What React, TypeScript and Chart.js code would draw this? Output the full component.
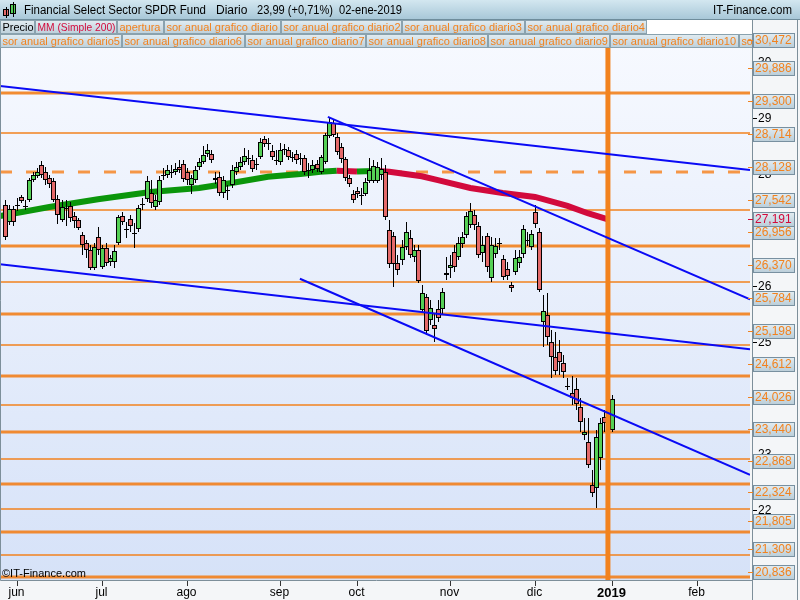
import { useEffect, useRef } from "react";
import { Chart, registerables } from "chart.js";

Chart.register(...registerables);

// Session index 0 = 1 Jun 2018, one step per trading day.
const FIRST_SESSION = -3;

const opens = [
  27.45, 27.14, 27.38, 27.45, 27.59, 27.43, 27.54, 27.89, 27.96, 28.16,
  28.04, 27.93, 27.87, 27.55, 27.18, 27.39, 27.43, 27.25, 27.18, 26.91,
  26.77, 26.64, 26.32, 26.88, 26.34, 26.68, 26.43, 26.43, 26.77, 27.25,
  27.0, 27.2, 26.93, 27.02, 27.45, 27.55, 27.66, 27.41, 27.5, 27.98,
  27.98, 28.04, 28.04, 28.13, 28.18, 28.04, 27.8, 27.89, 28.13, 28.21,
  28.36, 28.36, 27.89, 27.95, 27.66, 27.7, 27.8, 28.04, 28.13, 28.21,
  28.29, 28.25, 28.18, 28.3, 28.63, 28.55, 28.41, 28.25, 28.21, 28.43,
  28.43, 28.3, 28.36, 28.27, 28.29, 28.07, 28.07, 28.18, 28.04, 28.21,
  28.68, 28.91, 28.66, 28.48, 28.27, 27.93, 27.64, 27.7, 27.62, 27.64,
  27.87, 27.87, 27.87, 27.98, 28.04, 27.0, 26.89, 26.41, 26.46, 26.7,
  26.86, 26.52, 26.64, 25.57, 25.8, 25.39, 25.3, 25.59, 25.59, 26.2,
  26.32, 26.61, 26.52, 26.75, 26.91, 27.09, 27.27, 27.07, 26.59, 26.89,
  26.14, 26.57, 26.75, 26.48, 26.3, 26.02, 26.25, 26.41, 26.57, 26.82,
  26.7, 27.32, 26.96, 25.36, 25.48, 25.0, 24.73, 24.82, 24.63, 24.21,
  24.09, 24.16, 23.84, 23.34, 23.21, 22.45, 22.39, 22.93, 23.66, 23.61,
  23.43,
];
const highs = [
  27.54, 27.45, 27.43, 27.57, 27.63, 27.54, 27.93, 28.04, 28.11, 28.23,
  28.13, 27.98, 27.93, 27.63, 27.54, 27.54, 27.5, 27.32, 27.21, 26.96,
  26.82, 26.73, 26.77, 27.05, 26.73, 26.77, 26.55, 26.73, 27.27, 27.32,
  27.14, 27.27, 27.13, 27.45, 27.57, 27.96, 27.89, 27.63, 27.96, 28.11,
  28.16, 28.16, 28.2, 28.25, 28.25, 28.11, 27.98, 28.14, 28.29, 28.5,
  28.54, 28.43, 28.04, 28.04, 27.96, 27.8, 28.16, 28.21, 28.3, 28.46,
  28.43, 28.34, 28.29, 28.64, 28.68, 28.64, 28.52, 28.43, 28.55, 28.54,
  28.48, 28.39, 28.43, 28.38, 28.34, 28.2, 28.25, 28.25, 28.34, 28.73,
  29.02, 28.98, 28.73, 28.55, 28.3, 27.98, 27.71, 27.77, 27.75, 27.93,
  28.29, 28.25, 28.21, 28.29, 28.16, 27.18, 26.96, 26.55, 26.82, 27.14,
  27.0, 26.73, 26.73, 26.02, 25.86, 25.75, 25.52, 25.75, 25.96, 26.52,
  26.55, 26.73, 26.87, 26.96, 27.32, 27.48, 27.36, 27.14, 26.89, 26.95,
  26.87, 26.86, 26.86, 26.55, 26.43, 26.07, 26.64, 26.64, 27.09, 26.96,
  27.0, 27.45, 27.04, 25.84, 25.87, 25.21, 25.18, 25.04, 24.77, 24.36,
  24.39, 24.36, 24.0, 23.64, 23.64, 22.71, 23.43, 23.64, 23.79, 23.86,
  24.05,
];
const lows = [
  26.82, 27.09, 27.07, 27.34, 27.48, 27.36, 27.5, 27.86, 27.93, 27.93,
  27.8, 27.75, 27.5, 27.11, 27.14, 27.07, 27.14, 27.04, 27.0, 26.55,
  26.5, 26.29, 26.29, 26.55, 26.3, 26.36, 26.36, 26.32, 26.73, 27.09,
  26.86, 26.96, 26.68, 26.96, 27.36, 27.5, 27.39, 27.36, 27.45, 27.89,
  27.93, 27.93, 27.98, 28.02, 27.86, 27.8, 27.64, 27.84, 28.07, 28.18,
  28.3, 28.2, 27.82, 27.61, 27.57, 27.54, 27.75, 27.98, 28.07, 28.16,
  28.16, 28.04, 28.07, 28.27, 28.48, 28.43, 28.25, 28.16, 28.16, 28.34,
  28.25, 28.21, 28.18, 28.16, 27.98, 27.93, 28.02, 28.04, 28.0, 28.18,
  28.64, 28.66, 28.34, 28.2, 27.87, 27.77, 27.48, 27.57, 27.45, 27.61,
  27.84, 27.84, 27.84, 27.89, 27.18, 26.32, 25.98, 26.2, 26.38, 26.64,
  26.5, 26.43, 26.05, 25.54, 25.13, 25.3, 25.0, 25.36, 25.48, 26.11,
  26.14, 26.25, 26.46, 26.68, 26.86, 27.04, 27.0, 26.5, 26.43, 26.25,
  26.07, 26.5, 26.64, 26.11, 26.11, 25.89, 26.2, 26.32, 26.5, 26.71,
  26.64, 27.04, 25.89, 24.91, 24.95, 24.36, 24.41, 24.41, 24.36, 24.14,
  23.87, 23.79, 23.39, 23.25, 22.75, 22.23, 22.04, 22.71, 23.39, 23.39,
  23.39,
];
const closes = [
  26.88, 27.38, 27.14, 27.43, 27.52, 27.42, 27.89, 27.98, 28.04, 27.98,
  27.89, 27.82, 27.54, 27.27, 27.41, 27.37, 27.21, 27.16, 27.04, 26.73,
  26.64, 26.32, 26.7, 26.64, 26.68, 26.41, 26.5, 26.63, 27.23, 27.14,
  27.02, 27.07, 26.95, 27.39, 27.46, 27.87, 27.48, 27.54, 27.89, 27.97,
  28.07, 28.03, 28.09, 28.07, 27.91, 27.89, 27.93, 28.07, 28.21, 28.34,
  28.43, 28.25, 27.93, 27.66, 27.89, 27.71, 28.07, 28.13, 28.21, 28.32,
  28.27, 28.09, 28.17, 28.57, 28.54, 28.56, 28.3, 28.24, 28.43, 28.45,
  28.3, 28.31, 28.25, 28.28, 28.04, 28.06, 28.16, 28.09, 28.3, 28.7,
  28.93, 28.7, 28.39, 28.27, 27.93, 27.82, 27.54, 27.64, 27.63, 27.86,
  28.07, 28.14, 28.13, 28.09, 27.23, 26.39, 26.39, 26.29, 26.7, 26.96,
  26.55, 26.64, 26.09, 25.87, 25.2, 25.61, 25.23, 25.43, 25.89, 26.23,
  26.38, 26.34, 26.77, 26.87, 27.25, 27.34, 27.09, 26.55, 26.73, 26.34,
  26.73, 26.71, 26.76, 26.16, 26.18, 25.96, 26.5, 26.52, 27.02, 26.83,
  26.93, 27.11, 25.93, 25.55, 25.09, 24.73, 24.48, 24.64, 24.46, 24.2,
  24.0, 23.89, 23.57, 23.39, 22.8, 22.3, 23.3, 23.55, 23.55, 23.82,
  23.99,
];

// 200-session simple moving average, sampled along the session axis
const maSessions = [-4.2, 8, 20, 33, 45, 53, 62, 70, 75, 79, 84, 86, 89, 92, 100, 104, 112, 120, 128, 136, 141, 146];
const maValues = [27.25, 27.41, 27.55, 27.68, 27.75, 27.84, 27.95, 28.0, 28.04, 28.06, 28.045, 28.05, 28.055, 28.04, 27.96, 27.89, 27.75, 27.66, 27.59, 27.43, 27.3, 27.19];
const maLastLabel = 27.191;

// horizontal support / resistance levels
const majorLevels = [29.446, 26.714, 25.5, 24.393, 23.393, 22.464, 21.607, 20.804];
const minorLevels = [28.732, 27.357, 26.071, 24.946, 23.875, 22.911, 22.018, 21.196];
const openingLevel = 28.036;
const yearOpenSession = 146;

// trend lines (session, price)
const trendUpper = [{ x: -4.2, y: 29.57 }, { x: 181.1, y: 28.07 }];
const trendSteep = [{ x: 76.8, y: 29.02 }, { x: 181.1, y: 25.76 }];
const trendMiddle = [{ x: -4.2, y: 26.39 }, { x: 181.1, y: 24.87 }];
const trendLower = [{ x: 69.9, y: 26.13 }, { x: 181.1, y: 22.63 }];

const axisLevelLabels = [30.472, 29.886, 29.3, 28.714, 28.128, 27.542, 26.956, 26.37, 25.784, 25.198, 24.612, 24.026, 23.44, 22.868, 22.324, 21.805, 21.309, 20.836];
const axisNumbers = [30, 29, 28, 27, 26, 25, 24, 23, 22];

const monthSessions = [0, 21, 42, 65, 84, 107, 128, 147, 168];
const monthLabels = ["jun", "jul", "ago", "sep", "oct", "nov", "dic", "2019", "feb"];

const legendRow1 = ["Precio", "MM (Simple 200)", "apertura", "sor anual grafico diario", "sor anual grafico diario2", "sor anual grafico diario3", "sor anual grafico diario4"];
const legendRow2 = ["sor anual grafico diario5", "sor anual grafico diario6", "sor anual grafico diario7", "sor anual grafico diario8", "sor anual grafico diario9", "sor anual grafico diario10", "sor anual grafico diario11"];

const titleName = "Financial Select Sector SPDR Fund";
const titlePeriod = "Diario";
const titleQuote = "23,99 (+0,71%)";
const titleDate = "02-ene-2019";
const siteName = "IT-Finance.com";
const copyright = "©IT-Finance.com";

const X_MIN = -4.2;
const X_MAX = 181.1;
const Y_MIN = 20.75;
const Y_MAX = 30.75;

// legend box widths, px
const LEGEND_W1 = [35, 82, 47, 117, 121, 123, 122];
const LEGEND_W2 = [122, 123, 121, 122, 122, 129, 122];

const FONT = "'Liberation Sans', Arial, sans-serif";
const ORANGE = "#f2821e";
const UP_FILL = "#55d055";
const DOWN_FILL = "#e46a6a";
const MA_UP = "#0b960b";
const MA_DOWN = "#d20a3c";
const BLUE = "#0a0af5";
const MA_INDEX = 0;

const fmt = (v: number) => v.toFixed(3).replace(".", ",");

function boxGradient(ctx: CanvasRenderingContext2D, y0: number, y1: number) {
  const g = ctx.createLinearGradient(0, y0, 0, y1);
  g.addColorStop(0, "#e3edf2");
  g.addColorStop(1, "#bccfda");
  return g;
}

const decor = {
  id: "decor",
  beforeDraw(chart: any) {
    const { ctx, chartArea: a } = chart;
    ctx.save();
    ctx.fillStyle = "#f4f6f8";
    ctx.fillRect(0, 0, 800, 600);
    const g = ctx.createLinearGradient(0, a.top, 0, a.bottom);
    g.addColorStop(0, "#f8faff");
    g.addColorStop(1, "#d6e2f8");
    ctx.fillStyle = g;
    ctx.fillRect(a.left, a.top, a.right - a.left, a.bottom - a.top);
    ctx.restore();
  },
  afterDatasetDraw(chart: any, args: any) {
    if (args.index !== MA_INDEX) return;
    const { ctx, chartArea: a } = chart;
    const xs = chart.scales.x;
    const ys = chart.scales.y;
    ctx.save();
    ctx.beginPath();
    ctx.rect(a.left, a.top, a.right - a.left, a.bottom - a.top);
    ctx.clip();
    ctx.lineWidth = 1;
    ctx.strokeStyle = "#000";
    for (let k = 0; k < opens.length; k++) {
      const x = Math.round(xs.getPixelForValue(FIRST_SESSION + k));
      const yh = Math.round(ys.getPixelForValue(highs[k]));
      const yl = Math.round(ys.getPixelForValue(lows[k]));
      const yo = ys.getPixelForValue(opens[k]);
      const yc = ys.getPixelForValue(closes[k]);
      ctx.beginPath();
      ctx.moveTo(x + 0.5, yh);
      ctx.lineTo(x + 0.5, yl);
      ctx.stroke();
      const top = Math.round(Math.min(yo, yc));
      const bot = Math.round(Math.max(yo, yc));
      if (bot - top < 2) {
        ctx.beginPath();
        ctx.moveTo(x - 2, top + 0.5);
        ctx.lineTo(x + 3, top + 0.5);
        ctx.stroke();
      } else {
        ctx.fillStyle = closes[k] >= opens[k] ? UP_FILL : DOWN_FILL;
        ctx.fillRect(x - 1.5, top, 4, bot - top);
        ctx.strokeRect(x - 1.5, top + 0.5, 4, bot - top - 1);
      }
    }
    ctx.restore();
  },
  afterDraw(chart: any) {
    const { ctx, chartArea: a } = chart;
    const xs = chart.scales.x;
    const ys = chart.scales.y;
    ctx.save();

    // plot frame
    ctx.strokeStyle = "#7d8f9a";
    ctx.lineWidth = 1;
    ctx.beginPath();
    ctx.moveTo(0.5, a.top);
    ctx.lineTo(0.5, a.bottom + 0.5);
    ctx.lineTo(a.right + 2.5, a.bottom + 0.5);
    ctx.moveTo(a.right + 2.5, a.top);
    ctx.lineTo(a.right + 2.5, 600);
    ctx.moveTo(797.5, 20);
    ctx.lineTo(797.5, 600);
    ctx.stroke();

    // header bar
    const hg = ctx.createLinearGradient(0, 0, 0, 20);
    hg.addColorStop(0, "#d3e7f0");
    hg.addColorStop(1, "#a6c6d7");
    ctx.fillStyle = hg;
    ctx.fillRect(0, 0, 800, 20);
    ctx.strokeStyle = "#6f8d9c";
    ctx.beginPath();
    ctx.moveTo(0, 19.5);
    ctx.lineTo(800, 19.5);
    ctx.stroke();
    // icon
    ctx.fillStyle = DOWN_FILL;
    ctx.strokeStyle = "#000";
    ctx.fillRect(4, 10, 5, 6);
    ctx.strokeRect(3.5, 9.5, 5, 6);
    ctx.beginPath();
    ctx.moveTo(6.5, 7);
    ctx.lineTo(6.5, 18);
    ctx.stroke();
    ctx.fillStyle = UP_FILL;
    ctx.fillRect(11, 5, 5, 9);
    ctx.strokeRect(10.5, 4.5, 5, 9);
    ctx.beginPath();
    ctx.moveTo(13.5, 2);
    ctx.lineTo(13.5, 17);
    ctx.stroke();

    ctx.fillStyle = "#000";
    ctx.font = `12px ${FONT}`;
    ctx.textBaseline = "middle";
    ctx.textAlign = "left";
    ctx.fillText(titleName, 24, 11, 182);
    ctx.fillText(titlePeriod, 216, 11, 33);
    ctx.fillText(titleQuote, 257, 11, 76);
    ctx.fillText(titleDate, 339, 11, 63);
    ctx.textAlign = "right";
    ctx.fillText(siteName, 792, 11, 79);

    // legend rows
    ctx.fillStyle = "#ffffff";
    ctx.fillRect(0, 20, a.right + 2, 28);
    ctx.font = `11px ${FONT}`;
    ctx.textAlign = "left";
    const drawRow = (items: string[], widths: number[], y0: number, colors: string[]) => {
      let x = 0;
      ctx.save();
      ctx.beginPath();
      ctx.rect(0, y0, a.right + 2, 14);
      ctx.clip();
      items.forEach((t, k) => {
        const w = widths[k];
        ctx.fillStyle = boxGradient(ctx, y0, y0 + 14);
        ctx.fillRect(x, y0, w, 14);
        ctx.strokeStyle = "#8aa2ae";
        ctx.strokeRect(x + 0.5, y0 + 0.5, w - 1, 13);
        ctx.fillStyle = colors[k] || ORANGE;
        ctx.fillText(t, x + 2.5, y0 + 7.5, w - 4);
        x += w;
      });
      ctx.restore();
    };
    drawRow(legendRow1, LEGEND_W1, 20, ["#000", MA_DOWN]);
    drawRow(legendRow2, LEGEND_W2, 34, []);

    // right axis: integer ticks
    ctx.font = `12px ${FONT}`;
    ctx.fillStyle = "#000";
    ctx.strokeStyle = "#000";
    axisNumbers.forEach((v) => {
      const y = Math.round(ys.getPixelForValue(v)) + 0.5;
      ctx.beginPath();
      ctx.moveTo(a.right + 3, y);
      ctx.lineTo(a.right + 7, y);
      ctx.stroke();
      ctx.fillText(String(v), a.right + 8, y);
    });
    // right axis: level boxes
    const levelBox = (v: number, color: string) => {
      let y = Math.round(ys.getPixelForValue(v));
      y = Math.max(40, Math.min(572, y));
      ctx.strokeStyle = color;
      ctx.beginPath();
      ctx.moveTo(a.right - 2, y + 0.5);
      ctx.lineTo(a.right + 3, y + 0.5);
      ctx.stroke();
      ctx.fillStyle = boxGradient(ctx, y - 7, y + 7);
      ctx.fillRect(a.right + 3, y - 7, 42, 15);
      ctx.strokeStyle = "#7890a0";
      ctx.strokeRect(a.right + 3.5, y - 6.5, 41, 14);
      ctx.fillStyle = color;
      ctx.fillText(fmt(v), a.right + 5, y + 1);
    };
    axisLevelLabels.forEach((v) => levelBox(v, ORANGE));
    levelBox(maLastLabel, MA_DOWN);

    // bottom axis
    ctx.fillStyle = "#000";
    ctx.strokeStyle = "#333";
    ctx.textAlign = "center";
    monthSessions.forEach((s, k) => {
      const x = Math.round(xs.getPixelForValue(s)) + 0.5;
      ctx.beginPath();
      ctx.moveTo(x, a.bottom + 1);
      ctx.lineTo(x, a.bottom + 6);
      ctx.stroke();
      ctx.font = monthLabels[k] === "2019" ? `bold 13px ${FONT}` : `12px ${FONT}`;
      ctx.fillText(monthLabels[k], x - 1, a.bottom + 13);
    });

    ctx.font = `11px ${FONT}`;
    ctx.textAlign = "left";
    ctx.fillText(copyright, 2, a.bottom - 6);
    ctx.restore();
  },
};

export default function App() {
  const ref = useRef<HTMLCanvasElement | null>(null);

  useEffect(() => {
    document.body.style.margin = "0";
    const canvas = ref.current;
    if (!canvas) return;

    const levelSet = (vals: number[], width: number, color: string, order: number, dash?: number[]) =>
      vals.map((v) => ({
        type: "line" as const,
        data: [{ x: X_MIN, y: v }, { x: X_MAX, y: v }],
        borderColor: color,
        borderWidth: width,
        borderDash: dash || [],
        pointRadius: 0,
        order,
      }));

    const trend = (pts: { x: number; y: number }[]) => ({
      type: "line" as const,
      data: pts,
      borderColor: BLUE,
      borderWidth: 2,
      pointRadius: 0,
      order: 0,
    });

    const chart = new Chart(canvas, {
      type: "line",
      data: {
        datasets: [
          {
            data: maSessions.map((s, k) => ({ x: s, y: maValues[k] })),
            borderWidth: 6,
            pointRadius: 0,
            borderColor: MA_UP,
            segment: {
              borderColor: (c: any) => (c.p1.parsed.y >= c.p0.parsed.y ? MA_UP : MA_DOWN),
            },
            order: 10,
          },
          ...levelSet(majorLevels, 3, "rgba(242,128,28,0.9)", 20),
          ...levelSet(minorLevels, 1.5, ORANGE, 20),
          ...levelSet([openingLevel], 3, "rgba(245,140,50,0.9)", 20, [12, 14]),
          {
            data: [{ x: yearOpenSession, y: Y_MIN }, { x: yearOpenSession, y: Y_MAX }],
            borderColor: ORANGE,
            borderWidth: 5,
            pointRadius: 0,
            order: 1,
          },
          trend(trendUpper),
          trend(trendSteep),
          trend(trendMiddle),
          trend(trendLower),
        ] as any,
      },
      options: {
        animation: false,
        responsive: false,
        devicePixelRatio: 1,
        layout: { padding: { left: 0, right: 50, top: 20, bottom: 20 } },
        plugins: { legend: { display: false }, tooltip: { enabled: false } },
        elements: { line: { tension: 0 } },
        scales: {
          x: { type: "linear", min: X_MIN, max: X_MAX, display: false },
          y: { type: "linear", min: Y_MIN, max: Y_MAX, display: false },
        },
      },
      plugins: [decor],
    });
    return () => chart.destroy();
  }, []);

  return (
    <div style={{ position: "absolute", left: 0, top: 0, width: 800, height: 600 }}>
      <canvas ref={ref} width={800} height={600} />
    </div>
  );
}
